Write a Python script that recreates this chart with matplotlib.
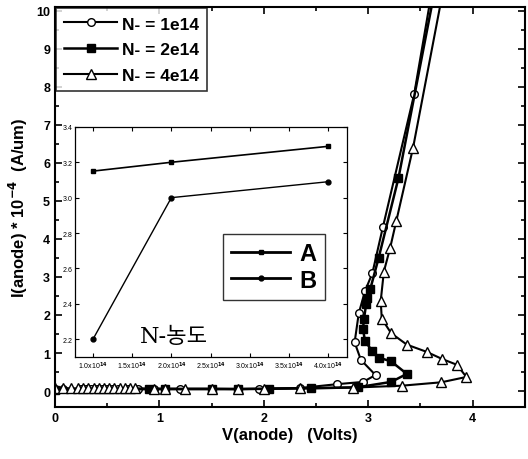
import numpy as np
import matplotlib.pyplot as plt

# main curves: V(anode) [V] vs I(anode) [1e-4 A/um]
v_1e14 = [0.0, 0.08, 0.25, 0.3, 0.35, 0.4, 0.45, 0.5, 0.55, 0.6, 0.7, 0.8, 0.95, 1.2, 1.5, 1.95,
          2.35, 2.7, 2.95, 3.07, 2.93, 2.87, 2.91, 2.97, 3.04, 3.14, 3.44, 3.64]
i_1e14 = [0.05, 0.05, 0.05, 0.05, 0.05, 0.05, 0.05, 0.05, 0.05, 0.05, 0.06, 0.06, 0.06, 0.06, 0.06, 0.06,
          0.08, 0.18, 0.24, 0.42, 0.82, 1.28, 2.05, 2.63, 3.1, 4.3, 7.8, 11.0]

v_2e14 = [0.0, 0.9, 1.05, 1.5, 1.75, 2.05, 2.45, 2.9, 3.22, 3.37, 3.22, 3.10, 3.04, 2.97, 2.95, 2.96,
          2.98, 2.99, 3.02, 3.10, 3.29, 3.67]
i_2e14 = [0.04, 0.05, 0.05, 0.05, 0.05, 0.06, 0.07, 0.1, 0.24, 0.45, 0.78, 0.88, 1.05, 1.31, 1.63, 1.9,
          2.28, 2.45, 2.68, 3.5, 5.6, 11.0]

v_4e14 = [0.0, 0.08, 0.15, 0.22, 0.27, 0.32, 0.37, 0.42, 0.47, 0.52, 0.57, 0.62, 0.67, 0.72, 0.77,
          0.95, 1.05, 1.25, 1.5, 1.75, 2.0, 2.35, 2.85, 3.32, 3.7, 3.94,
          3.85, 3.71, 3.56, 3.37, 3.22, 3.13, 3.12, 3.15, 3.21, 3.27, 3.43, 3.75]
i_4e14 = [0.08, 0.08, 0.07, 0.07, 0.07, 0.07, 0.07, 0.07, 0.07, 0.07, 0.07, 0.07, 0.07, 0.07, 0.07,
          0.06, 0.06, 0.06, 0.06, 0.05, 0.06, 0.08, 0.09, 0.14, 0.23, 0.37,
          0.69, 0.84, 1.03, 1.22, 1.52, 1.9, 2.37, 3.14, 3.76, 4.48, 6.4, 11.0]

# inset: N- concentration vs voltage
n_conc = [1.0, 2.0, 4.0]   # x 1e14
vA = [3.15, 3.20, 3.29]
vB = [2.20, 3.00, 3.09]
inset_xticks = [1.0, 1.5, 2.0, 2.5, 3.0, 3.5, 4.0]

plt.rcParams['font.family'] = ['Liberation Sans', 'DejaVu Sans']
plt.rcParams['font.weight'] = 'bold'

fig = plt.figure(figsize=(5.28, 4.6), dpi=100)
ax = fig.add_axes([0.104, 0.113, 0.890, 0.870])

ax.plot(v_1e14, i_1e14, color='black', lw=1.5, marker='o', ms=5.5, mfc='white', mec='black',
        label='N- = 1e14')
ax.plot(v_2e14, i_2e14, color='black', lw=1.8, marker='s', ms=5.5, mfc='black', mec='black',
        label='N- = 2e14')
ax.plot(v_4e14, i_4e14, color='black', lw=1.5, marker='^', ms=6.5, mfc='white', mec='black',
        label='N- = 4e14')

ax.set_xlim(0, 4.5)
ax.set_ylim(-0.42, 10.1)
ax.set_xticks([0, 1, 2, 3, 4])
ax.set_xticks(np.arange(0, 4.6, 0.5), minor=True)
ax.set_yticks(range(0, 11))
ax.set_yticks(np.arange(0, 10.1, 0.5), minor=True)
ax.tick_params(direction='in', top=True, right=True, which='both', width=1.2, labelsize=9)
ax.tick_params(which='major', length=5)
ax.tick_params(which='minor', length=3)
for s in ax.spines.values():
    s.set_linewidth(1.5)
ax.set_xlabel('V(anode)   (Volts)', fontsize=12, fontweight='bold', labelpad=2)
ax.set_ylabel('I(anode) * 10$^{-4}$  (A/um)', fontsize=12, fontweight='bold', labelpad=4)

leg = ax.legend(loc='upper left', fontsize=12.5, frameon=True, fancybox=False, edgecolor='black',
                borderaxespad=0.05, handlelength=3, labelspacing=0.6, borderpad=0.5,
                handletextpad=0.3)
leg.get_frame().set_linewidth(1.2)
for t in leg.get_texts():
    t.set_fontweight('bold')

# inset
ins = fig.add_axes([0.142, 0.222, 0.515, 0.500])
ins.plot(n_conc, vA, color='black', lw=1.2, marker='s', ms=3.5, label='A')
ins.plot(n_conc, vB, color='black', lw=1.0, marker='o', ms=3.5, label='B')
ins.set_xlim(0.77, 4.24)
ins.set_ylim(2.1, 3.4)
ins.set_xticks(inset_xticks)
ins.set_xticklabels([r'%.1fx10$^{14}$' % x for x in inset_xticks], fontsize=5, fontweight='normal')
ins.set_yticks([2.2, 2.4, 2.6, 2.8, 3.0, 3.2, 3.4])
ins.set_yticklabels(['2.2', '2.4', '2.6', '2.8', '3.0', '3.2', '3.4'], fontsize=5, fontweight='normal')
ins.tick_params(direction='in', top=True, right=True, length=3, width=0.8, pad=2)
for s in ins.spines.values():
    s.set_linewidth(0.9)

ileg = ins.legend(loc='upper left', bbox_to_anchor=(0.544, 0.535), fontsize=17, frameon=True,
                  fancybox=False, edgecolor='black', handlelength=2.5, labelspacing=0.15,
                  borderpad=0.35, borderaxespad=0, handletextpad=0.4)
ileg.get_frame().set_linewidth(1.0)
for t in ileg.get_texts():
    t.set_fontweight('bold')
for h in ileg.legend_handles:
    h.set_linewidth(2.0)

ins.text(1.6, 2.22, 'N-농도', fontsize=16, fontweight='normal',
         family=['DejaVu Serif', 'Noto Sans CJK KR'], ha='left', va='center')

fig.savefig('out.png', dpi=100)
